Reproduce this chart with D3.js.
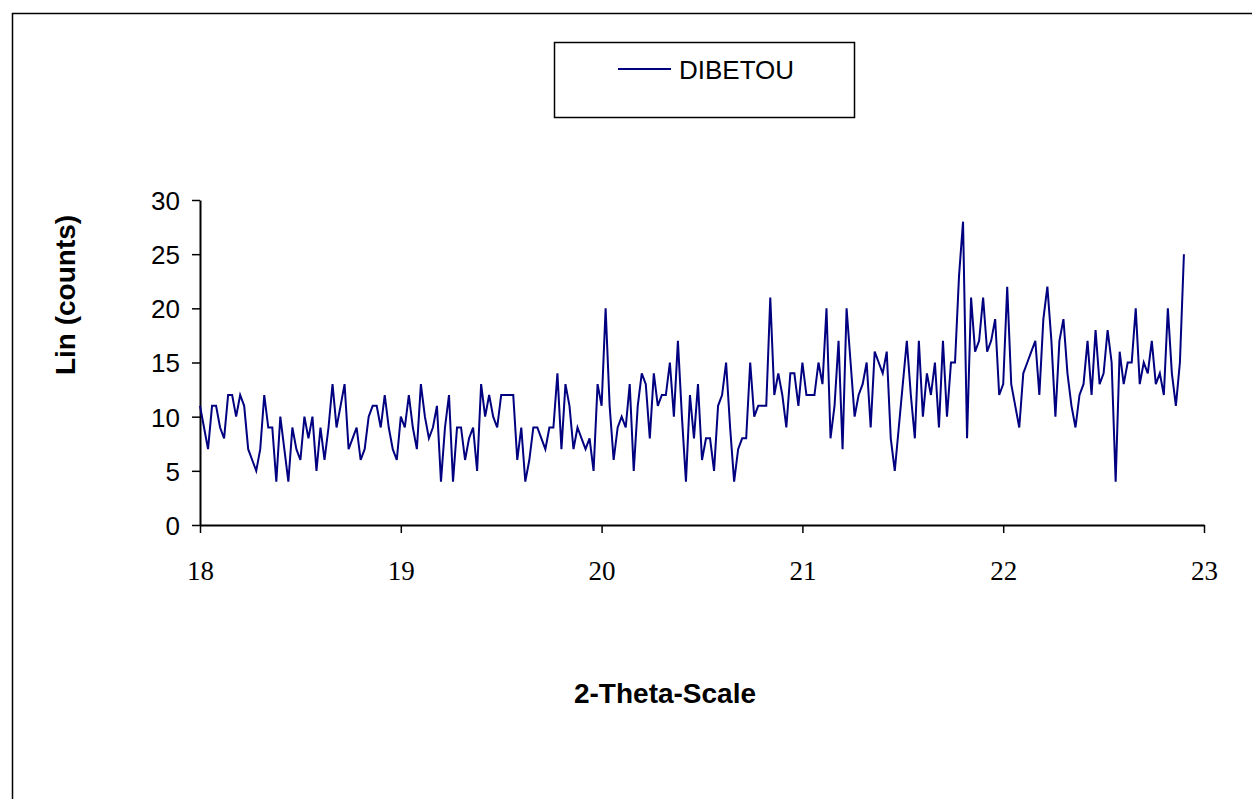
<!DOCTYPE html>
<html lang="en">
<head>
  <meta charset="utf-8" />
  <title>DIBETOU</title>
  <script src="https://d3js.org/d3.v7.min.js"></script>
  <style>
    body { margin: 0; background: #fff; }
    svg { display: block; }
    .ytick text { font-family: "Liberation Sans", Arial, sans-serif; font-size: 26px; }
    .xtick text { font-family: "Liberation Serif", "Times New Roman", serif; font-size: 27px; }
    .title { font-family: "Liberation Sans", Arial, sans-serif; font-size: 28px; font-weight: bold; }
  </style>
</head>
<body>
<svg id="chart" width="1252" height="799"></svg>
<script>
// 2-theta scan, step 0.02 deg from 18.00
var seriesName = "DIBETOU";
var thetaStart = 18, thetaStep = 0.02;
var counts = [
  11,9,7,11,11,9,8,12,12,10,12,11,7,6,5,7,12,9,9,4,10,7,4,9,7,
  6,10,8,10,5,9,6,9,13,9,11,13,7,8,9,6,7,10,11,11,9,12,9,7,6,
  10,9,12,9,7,13,10,8,9,11,4,9,12,4,9,9,6,8,9,5,13,10,12,10,9,
  12,12,12,12,6,9,4,6,9,9,8,7,9,9,14,7,13,11,7,9,8,7,8,5,13,
  11,20,11,6,9,10,9,13,5,11,14,13,8,14,11,12,12,15,10,17,10,4,12,8,13,
  6,8,8,5,11,12,15,9,4,7,8,8,15,10,11,11,11,21,12,14,12,9,14,14,11,
  15,12,12,12,15,13,20,8,11,17,7,20,15,10,12,13,15,9,16,15,14,16,8,5,
  9,13,17,12,8,17,10,14,12,15,9,17,10,15,15,23,28,8,21,16,17,21,16,17,19,
  12,13,22,13,11,9,14,15,16,17,12,19,22,17,10,17,19,14,11,9,12,13,17,12,18,
  13,14,18,15,4,16,13,15,15,20,13,15,14,17,13,14,12,20,14,11,15,25
];
var xTicks = [18, 19, 20, 21, 22, 23];
var yTicks = [0, 5, 10, 15, 20, 25, 30];

var svg = d3.select("#chart");

// outer chart frame
svg.append("rect")
  .attr("x", 12.5).attr("y", 13.5)
  .attr("width", 1260).attr("height", 800)
  .attr("fill", "none").attr("stroke", "#000").attr("stroke-width", 1.5);

var x = d3.scaleLinear().domain([18, 23]).range([200, 1204]);
var y = d3.scaleLinear().domain([0, 30]).range([525, 200]);

var data = counts.map(function(c, i) {
  return { theta: thetaStart + i * thetaStep, value: c };
});

// axes
var yAxis = svg.append("g")
  .attr("class", "ytick")
  .attr("transform", "translate(200,0)")
  .call(d3.axisLeft(y).tickValues(yTicks).tickSize(8).tickPadding(12).tickSizeOuter(0));
yAxis.select(".domain").attr("stroke-width", 2);
yAxis.selectAll(".tick line").attr("stroke-width", 1.5);
yAxis.selectAll("text").attr("fill", "#000").attr("dy", "0.36em");

var xAxis = svg.append("g")
  .attr("class", "xtick")
  .attr("transform", "translate(0,525)")
  .call(d3.axisBottom(x).tickValues(xTicks).tickSize(8).tickPadding(28).tickSizeOuter(0)
    .tickFormat(d3.format("d")));
xAxis.select(".domain").attr("stroke-width", 2);
xAxis.selectAll(".tick line").attr("stroke-width", 1.5);
xAxis.selectAll("text").attr("fill", "#000");

// series
var line = d3.line()
  .x(function(d) { return x(d.theta); })
  .y(function(d) { return y(d.value); });

svg.append("path")
  .datum(data)
  .attr("d", line)
  .attr("fill", "none")
  .attr("stroke", "#000080")
  .attr("stroke-width", 2)
  .attr("stroke-linejoin", "miter");

// axis titles
svg.append("text")
  .attr("class", "title")
  .attr("x", 665).attr("y", 703)
  .attr("text-anchor", "middle")
  .text("2-Theta-Scale");

svg.append("text")
  .attr("class", "title")
  .attr("transform", "translate(75,295) rotate(-90)")
  .attr("text-anchor", "middle")
  .text("Lin (counts)");

// legend
var legend = svg.append("g");
legend.append("rect")
  .attr("x", 554.5).attr("y", 42.5)
  .attr("width", 300).attr("height", 75)
  .attr("fill", "#fff").attr("stroke", "#000").attr("stroke-width", 1.5);
legend.append("line")
  .attr("x1", 618).attr("x2", 671)
  .attr("y1", 69).attr("y2", 69)
  .attr("stroke", "#000080").attr("stroke-width", 2);
legend.append("text")
  .attr("x", 679).attr("y", 79)
  .style("font-family", "'Liberation Sans', Arial, sans-serif")
  .style("font-size", "26px")
  .text(seriesName);
</script>
</body>
</html>
